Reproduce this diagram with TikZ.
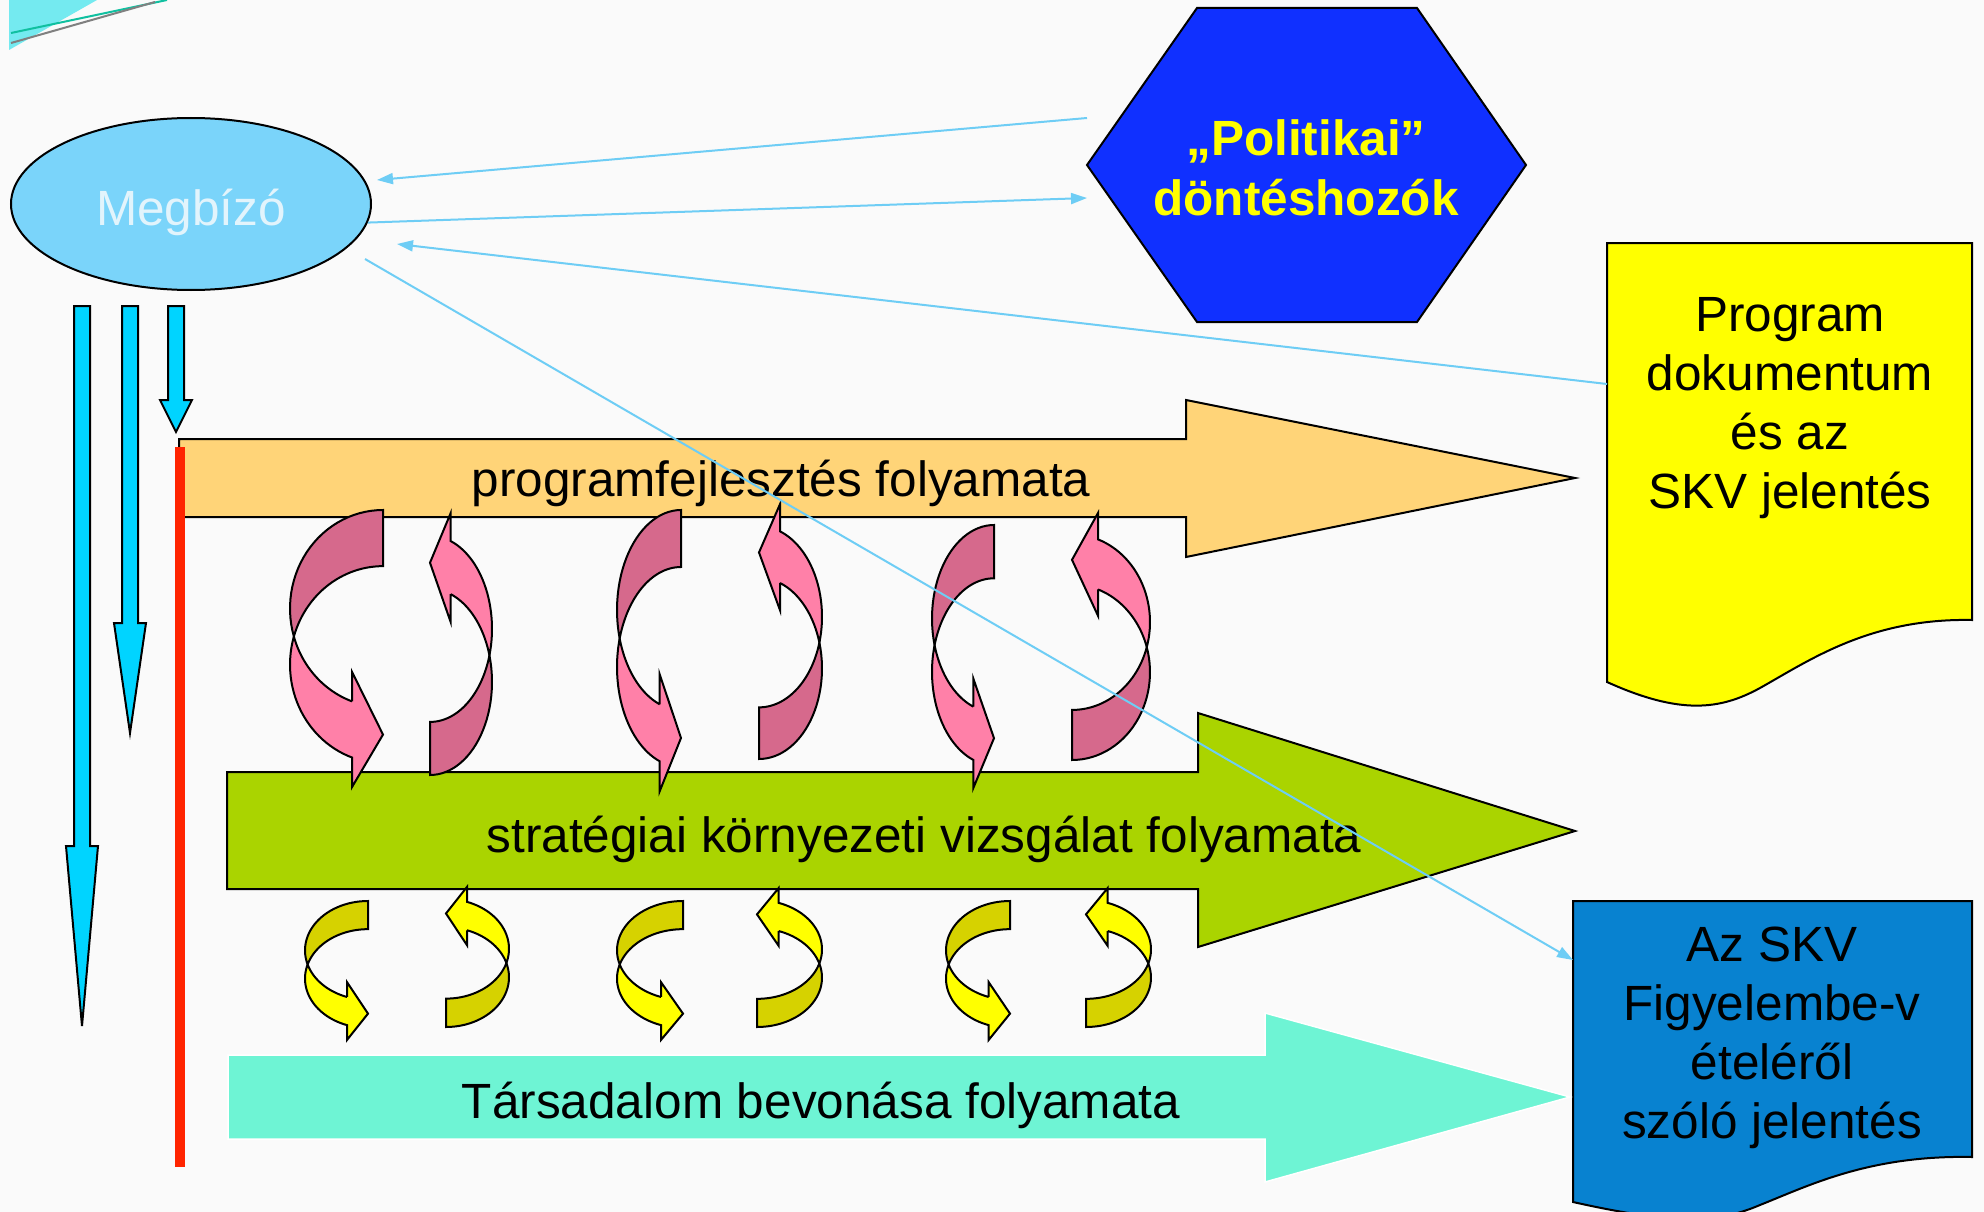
\documentclass[tikz,border=0pt]{standalone}
\usepackage{fontspec}
\setmainfont{Liberation Sans}
\usepackage{tikz}
\usetikzlibrary{
    arrows.meta,
    positioning,
    shapes.geometric
}
\definecolor{bgWhite}{RGB}{250,250,250}
\definecolor{megBlue}{RGB}{122,212,250}
\definecolor{megText}{RGB}{226,244,252}
\definecolor{polBlue}{RGB}{16,48,255}
\definecolor{docYellow}{RGB}{255,255,0}
\definecolor{docBlue}{RGB}{8,130,208}
\definecolor{progOrange}{RGB}{255,212,120}
\definecolor{skvGreen}{RGB}{170,212,0}
\definecolor{tarsMint}{RGB}{110,244,212}
\definecolor{downCyan}{RGB}{0,212,255}
\definecolor{lineRed}{RGB}{255,36,0}
\definecolor{linkBlue}{RGB}{110,205,245}
\definecolor{pinkDark}{RGB}{214,105,140}
\definecolor{pinkLight}{RGB}{255,128,168}
\definecolor{yelDark}{RGB}{214,210,0}
\definecolor{yelLight}{RGB}{255,255,0}
\definecolor{decoCyan}{RGB}{116,234,240}
\definecolor{decoGreen}{RGB}{16,192,160}

% twisted ribbon arrow, flat end at (0,0), head at the bottom
\newcommand{\twistarrow}[2]{%
    % back of the ribbon
    \filldraw[fill=#1]
        plot[domain=270:163.44, samples=30] ({cos(\x)},{1+sin(\x)})
        -- plot[domain=196.56:270, samples=30] ({cos(\x)},{1.57+sin(\x)})
        -- cycle;
    % front of the ribbon with the head
    \filldraw[fill=#2]
        plot[domain=196.56:109.47, samples=30] ({cos(\x)},{1.57+sin(\x)})
        -- (-0.3333,2.8128)
        -- (0,2.28)
        -- (-0.3333,1.6428)
        -- (-0.3333,1.9428)
        -- plot[domain=109.47:163.44, samples=30] ({cos(\x)},{1+sin(\x)})
        -- cycle;
}

\begin{document}
\begin{tikzpicture}[
    x=1pt,
    y=-1pt,
    font=\fontsize{49.5}{59}\selectfont,
    >={Triangle[length=16pt,width=11pt]},
    outline/.style={draw=black, line width=2pt},
    link/.style={->, linkBlue, line width=2pt}
]

% canvas
\fill[bgWhite] (0,0) rectangle (1984,1212);
\useasboundingbox (0,0) rectangle (1984,1212);
\clip (0,0) rectangle (1984,1212);

% corner decoration of the slide
\fill[decoCyan] (9,0) -- (97,0) -- (9,50) -- cycle;
\draw[decoGreen, line width=2pt] (11,33) -- (167,0);
\draw[gray, line width=2pt] (11,43) -- (155,2);

% =============================================================
% Actors and documents
% =============================================================

\node (megbizo) [
    ellipse,
    outline,
    fill=megBlue,
    text=megText,
    minimum width=360pt,
    minimum height=172pt,
    inner sep=0pt,
    text height=52pt,
    text depth=10pt
] at (191,204) {Megbízó};

% "Politikai" hexagon
\filldraw[fill=polBlue, outline]
    (1197,8) -- (1417,8) -- (1526,165)
    -- (1417,322) -- (1197,322) -- (1087,165) -- cycle;

% base = baseline of the last line
\node (politikai) [
    font=\fontsize{49.5}{60}\selectfont\bfseries,
    text=docYellow,
    align=center,
    anchor=base
] at (1306,215) {„Politikai”\\döntéshozók};

% program document
\filldraw[fill=docYellow, outline]
    (1607,243) -- (1972,243) -- (1972,620)
    .. controls (1870,618) and (1810,660) .. (1760,688)
    .. controls (1720,710) and (1680,715) .. (1607,682)
    -- cycle;

\node (progdoc) [
    align=center,
    anchor=base
] at (1790,508) {Program\\dokumentum\\és az\\SKV jelentés};

% SKV report
\filldraw[fill=docBlue, outline]
    (1573,901) -- (1972,901) -- (1972,1157)
    .. controls (1870,1155) and (1810,1185) .. (1760,1205)
    .. controls (1720,1222) and (1680,1226) .. (1573,1202)
    -- cycle;

\node (skvdoc) [
    align=center,
    anchor=base
] at (1772,1138) {Az SKV\\Figyelembe-v\\ételéről\\szóló jelentés};

% =============================================================
% Process arrows
% =============================================================

\filldraw[fill=progOrange, outline]
    (179,439) -- (1186,439) -- (1186,400) -- (1575,478)
    -- (1186,557) -- (1186,517) -- (179,517) -- cycle;

\node (progtext) [anchor=base] at (781,496) {programfejlesztés folyamata};

\filldraw[fill=skvGreen, outline]
    (227,772) -- (1198,772) -- (1198,713) -- (1575,831)
    -- (1198,947) -- (1198,889) -- (227,889) -- cycle;

\node (skvtext) [anchor=base] at (924,852) {stratégiai környezeti vizsgálat folyamata};

\filldraw[fill=tarsMint, draw=white, line width=1.5pt]
    (228,1055) -- (1265,1055) -- (1265,1013) -- (1570,1097)
    -- (1265,1182) -- (1265,1139) -- (228,1139) -- cycle;

\node (tarstext) [anchor=base] at (821,1118) {Társadalom bevonása folyamata};

% downward arrows of the client
\foreach \cx/\hy/\ty in {82/846/1026, 130/623/733, 176/400/432}{
    \filldraw[fill=downCyan, outline]
        (\cx-8,306) -- (\cx+8,306) -- (\cx+8,\hy) -- (\cx+16,\hy)
        -- (\cx,\ty) -- (\cx-16,\hy) -- (\cx-8,\hy) -- cycle;
}

\draw[lineRed, line width=10pt] (180,447) -- (180,1167);

% =============================================================
% Feedback loops between the processes
% =============================================================

% pink loops: flat end x/y, x radius, y radius
\foreach \fx/\fy/\sx/\sy in {
    383/510/93/98.5,
    430/775/-62/-93.1,
    681/510/64/100,
    759/759/-63/-90.6,
    994/525/62/93.5,
    1072/760/-78/-87.8}{
    \begin{scope}[shift={(\fx,\fy)}, xscale=\sx, yscale=\sy, line width=2pt]
        \twistarrow{pinkDark}{pinkLight}
    \end{scope}
}

% yellow loops
\foreach \fx/\fy/\sx/\sy in {
    368/901/63/49.4,
    446/1027/-63/-49.8,
    683/901/66/49.4,
    757/1027/-65/-49.4,
    1010/901/64/49.4,
    1086/1027/-65/-49.4}{
    \begin{scope}[shift={(\fx,\fy)}, xscale=\sx, yscale=\sy, line width=2pt]
        \twistarrow{yelDark}{yelLight}
    \end{scope}
}

% =============================================================
% Links of the client
% =============================================================

\coordinate (polTop) at (1087,118);
\coordinate (megTop) at (377,180);
\coordinate (polMid) at (1087,198);
\coordinate (docLeft) at (1607,384);
\coordinate (megDoc) at (397,244);
\coordinate (megLow) at (365,259);
\coordinate (skvLeft) at (1573,960);

\draw[link] (polTop) -- (megTop);
\draw[link] (megbizo.-6) -- (polMid);
\draw[link] (docLeft) -- (megDoc);
\draw[link] (megLow) -- (skvLeft);

\end{tikzpicture}
\end{document}
